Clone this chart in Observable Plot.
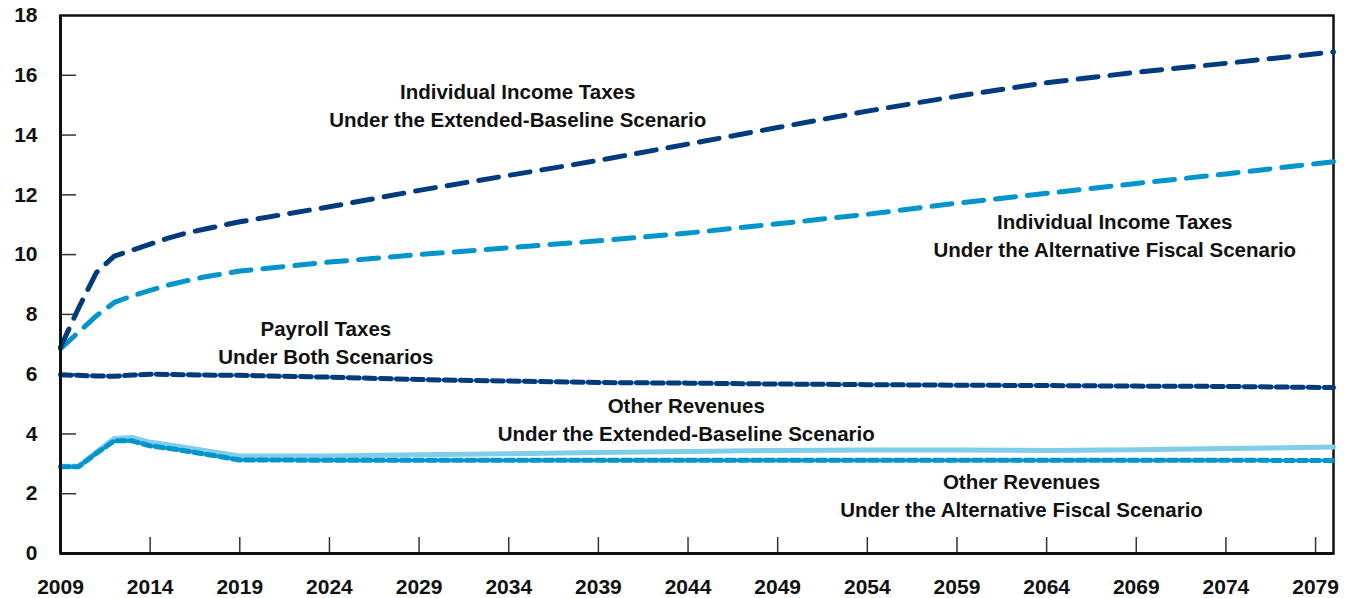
<!DOCTYPE html>
<html><head><meta charset="utf-8">
<script src="https://cdn.jsdelivr.net/npm/d3@7"></script>
<script src="https://cdn.jsdelivr.net/npm/@observablehq/plot@0.6"></script>
<style>body{margin:0;background:#fff} svg{display:block}</style>
</head><body><div id="chart"></div>
<script>
const years = [2009,2010,2011,2012,2013,2014,2015,2016,2017,2019,2024,2029,2034,2039,2044,2049,2054,2059,2064,2069,2074,2080];
const incomeExtended    = [6.9,8.2,9.4,9.95,10.15,10.35,10.55,10.72,10.85,11.1,11.6,12.15,12.65,13.15,13.7,14.25,14.8,15.3,15.75,16.1,16.4,16.78];
const incomeAlternative = [6.85,7.4,7.95,8.4,8.62,8.8,8.98,9.12,9.25,9.45,9.75,10.0,10.23,10.46,10.72,11.03,11.35,11.72,12.05,12.38,12.7,13.11];
const payroll           = [5.98,5.96,5.94,5.93,5.97,6.0,5.99,5.98,5.97,5.96,5.9,5.82,5.77,5.72,5.7,5.67,5.65,5.63,5.62,5.6,5.59,5.55];
const otherExtended     = [2.92,2.92,3.4,3.85,3.88,3.72,3.64,3.55,3.45,3.26,3.26,3.3,3.34,3.38,3.41,3.45,3.46,3.46,3.45,3.47,3.51,3.56];
const otherAlternative  = [2.9,2.9,3.35,3.77,3.77,3.6,3.52,3.43,3.33,3.13,3.12,3.12,3.12,3.12,3.12,3.12,3.12,3.12,3.12,3.12,3.12,3.11];

const yTickLabels = [0,2,4,6,8,10,12,14,16,18];
const yInnerTicks = [2,4,6,8,10,12,14,16];
const xTickLabels = [2009,2014,2019,2024,2029,2034,2039,2044,2049,2054,2059,2064,2069,2074,2079];
const xInnerTicks = [2014,2019,2024,2029,2034,2039,2044,2049,2054,2059,2064,2069,2074,2079];

const labelTexts = [
  "Individual Income Taxes\nUnder the Extended-Baseline Scenario",
  "Individual Income Taxes\nUnder the Alternative Fiscal Scenario",
  "Payroll Taxes\nUnder Both Scenarios",
  "Other Revenues\nUnder the Extended-Baseline Scenario",
  "Other Revenues\nUnder the Alternative Fiscal Scenario"
];
const labelYears  = [2034.5, 2067.8, 2023.8, 2043.9, 2062.6];
const labelValues = [15.05, 10.7, 7.12, 4.52, 1.99];

const navy = "#003c7d", blue = "#0094cc", sky = "#80cdea";
const rows = vals => years.map((year, i) => ({year, value: vals[i]}));
const labels = labelTexts.map((text, i) => ({text, year: labelYears[i], value: labelValues[i]}));

const font = "'Liberation Sans', Arial, sans-serif";
const plot = Plot.plot({
  width: 1353, height: 598,
  marginLeft: 60, marginRight: 20, marginTop: 15, marginBottom: 45,
  style: {fontFamily: font, fontWeight: "bold", background: "#fff", color: "#111"},
  x: {type: "linear", domain: [2009, 2080]},
  y: {domain: [0, 18]},
  marks: [
    Plot.axisY(yTickLabels, {tickSize: 0, tickPadding: 23, fontSize: 21, fontWeight: "bold", fill: "#111", label: null}),
    Plot.axisY(yInnerTicks, {tickSize: 16, dx: 16, fill: "none", stroke: "#333", strokeWidth: 1.5, label: null}),
    Plot.axisX(xTickLabels, {tickSize: 0, tickPadding: 26, fontSize: 21, fontWeight: "bold", fill: "#111", tickFormat: d => String(d), label: null}),
    Plot.axisX(xInnerTicks, {tickSize: 16, dy: -16, fill: "none", stroke: "#333", strokeWidth: 1.5, label: null}),
    Plot.frame({stroke: "#111", strokeWidth: 2.5}),
    Plot.lineY(rows(otherExtended), {x: "year", y: "value", stroke: sky, strokeWidth: 5}),
    Plot.lineY(rows(otherAlternative), {x: "year", y: "value", stroke: blue, strokeWidth: 5, strokeDasharray: "8.5,4.5"}),
    Plot.lineY(rows(payroll), {x: "year", y: "value", stroke: navy, strokeWidth: 5, strokeDasharray: "11,5"}),
    Plot.lineY(rows(incomeAlternative), {x: "year", y: "value", stroke: blue, strokeWidth: 5, strokeDasharray: "20,12"}),
    Plot.lineY(rows(incomeExtended), {x: "year", y: "value", stroke: navy, strokeWidth: 5, strokeDasharray: "20,12"}),
    Plot.ruleX([2009], {stroke: "#111", strokeWidth: 3}),
    Plot.ruleY([0], {stroke: "#111", strokeWidth: 3}),
    Plot.text(labels, {x: "year", y: "value", text: "text", fontSize: 20.5, fontWeight: "bold", fill: "#111", lineHeight: 1.37, textAnchor: "middle", lineAnchor: "middle"})
  ]
});
document.getElementById("chart").appendChild(plot);
</script>
</body></html>
